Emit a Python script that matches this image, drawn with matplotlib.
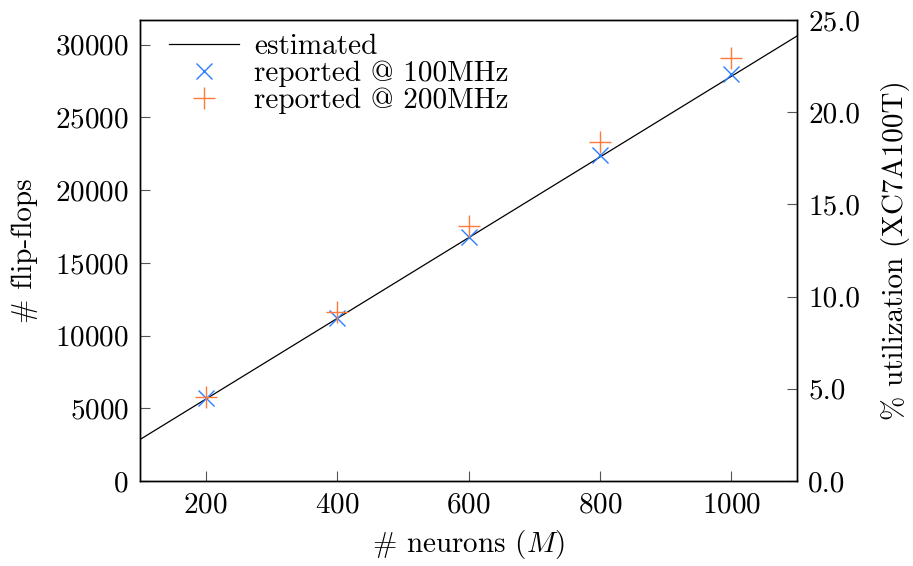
import numpy as np
import matplotlib
matplotlib.use("Agg")
import matplotlib.pyplot as plt

plt.rcParams['font.family'] = ['cmr10', 'DejaVu Serif']
plt.rcParams['mathtext.fontset'] = 'cm'
plt.rcParams['axes.formatter.use_mathtext'] = True

# data
neurons = [200, 400, 600, 800, 1000]
ff_100mhz = [5700, 11200, 16800, 22400, 28000]
ff_200mhz = [5750, 11650, 17500, 23300, 29100]
est_x = [100, 1100]
est_y = [2850, 30600]
device_ff = 126800  # XC7A100T flip-flops
util_max = 25.0

fs = 21

fig = plt.figure(figsize=(9.13, 5.66), dpi=100)
ax = fig.add_axes([0.1533, 0.1502, 0.7197, 0.8145])

ax.plot(est_x, est_y, color='black', lw=0.9, label='estimated')
ax.plot(neurons, ff_100mhz, ls='none', marker='x', ms=12, mew=1.0,
        color='#2a7fff', label='reported @ 100MHz')
ax.plot(neurons, ff_200mhz, ls='none', marker='+', ms=16, mew=1.0,
        color='#ff7a3a', label='reported @ 200MHz')

ax.set_xlim(100, 1100)
ax.set_ylim(0, device_ff * util_max / 100)
ax.set_xticks([200, 400, 600, 800, 1000])
ax.set_yticks(np.arange(0, 30001, 5000))
ax.tick_params(direction='in', length=7, labelsize=fs, top=False, right=False,
               color='#555555', pad=8)
ax.set_xlabel('# neurons ($M$)', fontsize=fs, labelpad=7)
ax.set_ylabel('# flip-flops', fontsize=fs, labelpad=12)

ax2 = ax.twinx()
ax2.set_ylim(0, util_max)
ax2.set_yticks(np.arange(0, 25.1, 5))
ax2.set_yticklabels(['%.1f' % v for v in np.arange(0, 25.1, 5)])
ax2.tick_params(direction='in', length=7, labelsize=fs, color='#555555', pad=8)
ax2.set_ylabel('% utilization (XC7A100T)', fontsize=fs, labelpad=15)

for a in (ax, ax2):
    for s in a.spines.values():
        s.set_linewidth(1.0)

ax.legend(loc='upper left', bbox_to_anchor=(0.018, 1.008), frameon=False,
          fontsize=fs, handlelength=2.4, labelspacing=0.02,
          handletextpad=0.5, borderaxespad=0.2)

fig.savefig('out.png', dpi=100)
